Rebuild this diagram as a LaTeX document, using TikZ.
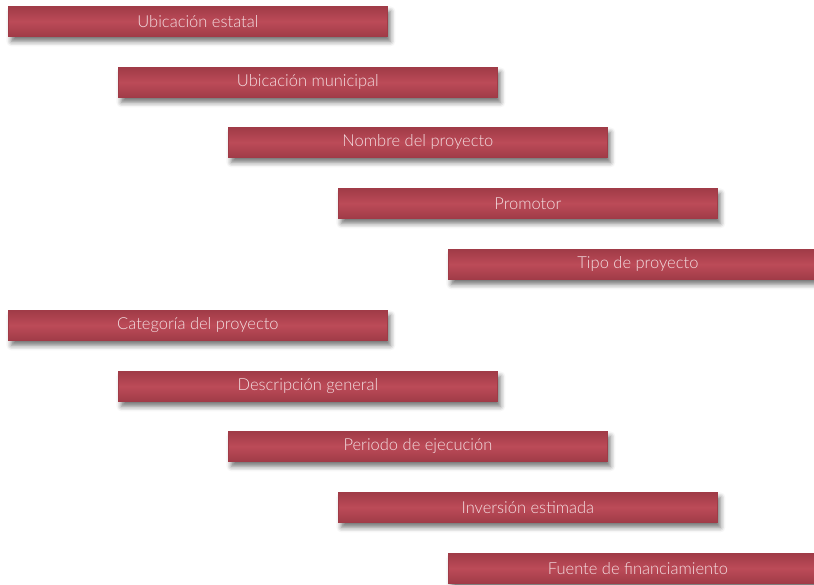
\documentclass[tikz,border=0pt]{standalone}
\usepackage{fontspec}
\setmainfont{Lato Light}
\usetikzlibrary{shadows.blur}
\definecolor{boxmid}{HTML}{BC4B58}
\definecolor{boxedge}{HTML}{A03B47}
\definecolor{boxtext}{HTML}{F3DEE1}
\tikzset{
  itembox/.style={
    anchor=north west, minimum width=379pt, minimum height=30pt,
    inner sep=0pt, text=boxtext, font=\fontsize{16.5}{19}\selectfont,
    top color=boxedge, bottom color=boxedge, middle color=boxmid,
    draw=boxedge, line width=0.8pt,
    blur shadow={shadow xshift=3pt, shadow yshift=-5pt, shadow blur radius=5pt, shadow opacity=55}
  }
}
\begin{document}
\begin{tikzpicture}[x=1pt,y=-1pt]
\useasboundingbox (0,0) rectangle (814,585);
\node[itembox] (b1) at (8,6) {Ubicación estatal};
\node[itembox] (b2) at (118,67) {Ubicación municipal};
\node[itembox] (b3) at (228,127) {Nombre del proyecto};
\node[itembox] (b4) at (338,188) {Promotor};
\node[itembox] (b5) at (448,249) {Tipo de proyecto};
\node[itembox] (b6) at (8,310) {Categoría del proyecto};
\node[itembox] (b7) at (118,371) {Descripción general};
\node[itembox] (b8) at (228,431) {Periodo de ejecución};
\node[itembox] (b9) at (338,492) {Inversión estimada};
\node[itembox] (b10) at (448,553) {Fuente de financiamiento};
\end{tikzpicture}
\end{document}
